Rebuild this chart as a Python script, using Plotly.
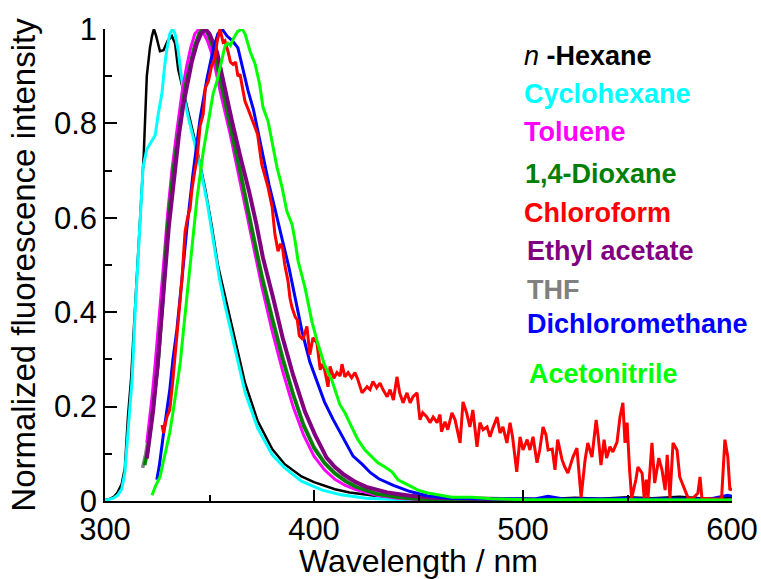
import plotly.graph_objects as go

# Emission spectra (wavelength in nm, normalized intensity)
hexane_wl = [300, 302, 304, 306, 308, 309.5, 311, 312.5, 314, 315.5, 317, 318.5, 320, 321.5, 322.5, 323.4,
             324.5, 326.3, 328, 330, 332, 333.5, 335, 338.3, 341, 344, 348, 351, 354, 357.4, 362, 367, 373,
             380, 386, 394, 400, 410, 417, 425, 433, 441, 450, 462, 475, 488, 500, 512, 525, 537, 550, 562,
             575, 588, 600]
hexane_int = [0.002, 0.004, 0.008, 0.018, 0.036, 0.07, 0.18, 0.26, 0.38, 0.5, 0.62, 0.73, 0.9, 0.96, 0.985, 1.0,
              0.985, 0.953, 0.955, 0.975, 0.985, 0.97, 0.915, 0.851, 0.8, 0.745, 0.66, 0.585, 0.5, 0.435, 0.345,
              0.25, 0.17, 0.11, 0.078, 0.052, 0.04, 0.025, 0.018, 0.013, 0.009, 0.006, 0.005, 0.004, 0.006,
              0.003, 0.005, 0.004, 0.007, 0.005, 0.008, 0.006, 0.009, 0.005, 0.008]

cyclohexane_wl = [300, 302, 304, 306, 308, 309.5, 310.5, 312, 313, 314.4, 315.5, 316.7, 318.2, 320, 322, 324,
                  325.5, 327.3, 328.5, 329.6, 331, 332.3, 333.5, 335, 336.5, 338.3, 340, 342, 345, 349, 352,
                  354.8, 357.4, 362, 367, 373, 380, 386, 394, 404, 413, 425, 440, 460, 500, 550, 600]
cyclohexane_int = [0.001, 0.003, 0.006, 0.012, 0.025, 0.06, 0.115, 0.2, 0.26, 0.399, 0.49, 0.6, 0.707, 0.745,
                   0.76, 0.775, 0.82, 0.866, 0.92, 0.957, 0.99, 1.0, 0.99, 0.955, 0.9, 0.845, 0.81, 0.773, 0.72,
                   0.63, 0.545, 0.47, 0.415, 0.325, 0.231, 0.155, 0.098, 0.07, 0.042, 0.023, 0.013, 0.006,
                   0.003, 0.002, 0.001, 0.001, 0.001]

toluene_wl = [320, 321, 322.5, 324, 326, 328, 330, 332, 334.4, 337, 339, 341, 343, 345, 347, 349, 351.7, 355,
              360, 365, 370, 375, 380, 385, 390, 395, 400, 405, 410, 415, 420, 430, 440, 450, 470, 500, 550, 600]
toluene_int = [0.123, 0.16, 0.22, 0.29, 0.39, 0.5, 0.61, 0.7, 0.785, 0.87, 0.92, 0.96, 0.99, 1.0, 0.993, 0.975,
               0.94, 0.87, 0.775, 0.67, 0.56, 0.455, 0.36, 0.275, 0.2, 0.14, 0.095, 0.066, 0.046, 0.033, 0.024,
               0.012, 0.006, 0.003, 0.001, 0.001, 0.0, 0.0]

dioxane_wl = [319, 320.6, 322, 323.5, 325.4, 327.8, 329.7, 332.5, 334.5, 336.8, 338.5, 340.7, 343, 345, 347,
              349, 351.7, 355, 360, 365, 370, 375, 380, 385, 390, 395, 400, 405, 410, 415, 420, 430, 440, 450,
              470, 500, 550, 600]
dioxane_int = [0.076, 0.11, 0.16, 0.215, 0.293, 0.44, 0.569, 0.696, 0.765, 0.83, 0.88, 0.925, 0.965, 0.99, 1.0,
               0.995, 0.96, 0.895, 0.795, 0.69, 0.58, 0.475, 0.385, 0.3, 0.225, 0.16, 0.112, 0.08, 0.058, 0.042,
               0.03, 0.015, 0.008, 0.004, 0.002, 0.001, 0.001, 0.001]

chloroform_wl = [327.3, 328.0, 329.6, 331.0, 332.5, 334.4, 336.8, 338.3, 339.5, 340.7, 341.6, 343, 344, 345.5,
                 347, 348, 349.5, 351, 352.6, 353.6, 355, 356.5, 357.4, 359, 360, 361.3, 362.5, 363.6, 364.6,
                 366, 367, 368.5, 370, 371.5, 373, 375, 376.5, 378, 380, 381.3, 382.8, 384, 385, 386, 387.6,
                 388.5, 389.5, 391, 392, 393, 394.7, 396.6, 398, 399.5, 401.4, 403, 404, 405, 406.7, 407.7,
                 409.5, 411, 412.5, 413.4, 414.8, 416.3, 418, 419.6, 421, 423, 425.4, 426.8, 428.2, 430, 431.6,
                 433, 435, 436.4, 438, 439.7, 441, 442.6, 444.5, 446, 447.4, 449.3, 450.7, 452, 454, 455.5, 457,
                 458.9, 460.3, 461, 462.7, 464, 466, 467.5, 469.9, 471.3, 473, 474.6, 476, 478, 479.4, 480.9,
                 482.8, 484.2, 485.6, 487.6, 489, 490.4, 492.3, 493.8, 495, 497, 498.6, 500, 502, 503.3, 504.8,
                 506.7, 508, 509.6, 511, 512, 514, 515.3, 516.6, 518.7, 520, 521.5, 523.9, 525.8, 527.8, 529.7,
                 531, 533, 535, 536, 537.3, 538.8, 540, 541.6, 543, 545, 546.4, 547.8, 548.8, 549.8, 551, 552,
                 554, 555, 557, 558, 559, 559.8, 561.7, 563, 565, 566.5, 568, 569, 570.3, 571.8, 573.7, 575,
                 577.5, 579, 581.3, 583.7, 584.7, 585.6, 590, 595, 596.6, 598, 599, 600]
chloroform_int = [0.161, 0.144, 0.178, 0.193, 0.257, 0.348, 0.469, 0.57, 0.6, 0.62, 0.66, 0.7, 0.724, 0.795,
                  0.82, 0.875, 0.89, 0.922, 0.936, 0.972, 1.0, 0.972, 0.975, 0.95, 0.93, 0.925, 0.93, 0.9,
                  0.904, 0.87, 0.847, 0.83, 0.813, 0.795, 0.777, 0.713, 0.69, 0.665, 0.622, 0.565, 0.529, 0.545,
                  0.535, 0.501, 0.465, 0.43, 0.41, 0.39, 0.384, 0.35, 0.342, 0.37, 0.31, 0.346, 0.335, 0.278,
                  0.29, 0.28, 0.242, 0.285, 0.26, 0.272, 0.265, 0.29, 0.263, 0.272, 0.261, 0.272, 0.257, 0.229,
                  0.242, 0.236, 0.253, 0.24, 0.25, 0.236, 0.221, 0.236, 0.214, 0.263, 0.229, 0.208, 0.229,
                  0.208, 0.221, 0.229, 0.172, 0.187, 0.178, 0.166, 0.178, 0.166, 0.183, 0.147, 0.168, 0.151,
                  0.187, 0.172, 0.123, 0.21, 0.187, 0.157, 0.193, 0.115, 0.166, 0.151, 0.157, 0.136, 0.155,
                  0.178, 0.144, 0.157, 0.123, 0.166, 0.136, 0.062, 0.136, 0.108, 0.13, 0.108, 0.136, 0.081,
                  0.108, 0.157, 0.14, 0.108, 0.11, 0.066, 0.13, 0.087, 0.072, 0.059, 0.093, 0.112, 0.008, 0.087,
                  0.123, 0.093, 0.172, 0.136, 0.076, 0.13, 0.091, 0.115, 0.104, 0.125, 0.178, 0.208, 0.123,
                  0.166, 0.066, 0.006, 0.045, 0.072, 0.059, 0.006, 0.045, 0.006, 0.123, 0.038, 0.091, 0.066,
                  0.023, 0.098, 0.006, 0.123, 0.108, 0.051, 0.023, 0.006, 0.006, 0.017, 0.051, 0.006, 0.004,
                  0.005, 0.13, 0.093, 0.023, 0.027]

ethylacetate_wl = [320, 321.5, 323, 325, 327, 328.5, 330.5, 333, 335.5, 337.5, 339.5, 341.5, 344, 346, 348, 350,
                   353.6, 357, 361, 365, 369, 372.5, 375.6, 380.4, 385, 390, 395.7, 400.5, 406, 410, 414, 420,
                   425, 435, 446, 457, 470, 490, 510, 550, 600]
ethylacetate_int = [0.09, 0.135, 0.19, 0.28, 0.4, 0.47, 0.58, 0.69, 0.78, 0.84, 0.89, 0.93, 0.97, 0.99, 1.0,
                    0.99, 0.951, 0.88, 0.8, 0.725, 0.655, 0.585, 0.515, 0.431, 0.346, 0.267, 0.189, 0.14, 0.092,
                    0.072, 0.057, 0.04, 0.03, 0.018, 0.011, 0.007, 0.005, 0.004, 0.002, 0.001, 0.001]

thf_wl = [318, 319.5, 321, 323, 325.4, 327.8, 330, 332.5, 335, 337.5, 340, 343, 346, 348, 351, 355, 360, 365,
          370, 375, 380, 385, 390, 395, 400, 405, 410, 420, 430, 440, 450, 470, 500, 550, 600]
thf_int = [0.07, 0.1, 0.14, 0.205, 0.29, 0.43, 0.565, 0.69, 0.785, 0.86, 0.915, 0.965, 0.995, 1.0, 0.97, 0.9,
           0.8, 0.695, 0.585, 0.48, 0.39, 0.305, 0.228, 0.163, 0.115, 0.082, 0.06, 0.031, 0.016, 0.008, 0.004,
           0.002, 0.001, 0.001, 0.001]

dcm_wl = [324.8, 326, 327.8, 329.5, 331, 332.5, 334.4, 336.8, 339, 342, 345.5, 348.8, 351.7, 354, 356, 358.4,
          361, 363.6, 366, 368.4, 371, 373.5, 376, 378.5, 381, 383, 385, 388, 391, 394.3, 398, 401.4, 405, 409,
          414, 418.7, 423, 427, 431, 438, 446, 454, 465, 475, 485, 495, 505, 512, 520, 530, 540, 550, 560, 570,
          580, 590, 598, 600]
dcm_int = [0.045, 0.075, 0.136, 0.19, 0.236, 0.3, 0.363, 0.469, 0.57, 0.69, 0.81, 0.895, 0.955, 0.99, 1.0, 0.985,
           0.975, 0.96, 0.915, 0.87, 0.83, 0.775, 0.72, 0.67, 0.625, 0.59, 0.55, 0.495, 0.43, 0.359, 0.295, 0.253,
           0.21, 0.174, 0.132, 0.095, 0.078, 0.06, 0.047, 0.033, 0.02, 0.011, 0.006, 0.005, 0.004, 0.005, 0.004,
           0.01, 0.004, 0.005, 0.004, 0.006, 0.004, 0.005, 0.004, 0.005, 0.012, 0.01]

acetonitrile_wl = [322.5, 324, 326.3, 328, 329.6, 331, 332.5, 334, 336, 337.5, 339.2, 341, 344, 347, 349, 351.7,
                   353.6, 356, 357.5, 358.8, 360, 361.5, 363.5, 365.5, 367, 369.4, 371.8, 374, 375.6, 378, 380,
                   382.3, 384.7, 387, 389.5, 391, 392.3, 395.7, 399, 402, 405, 408.6, 412.4, 414.8, 418, 421,
                   424.4, 427.8, 430.6, 434, 437.3, 440.2, 443.5, 447, 449.8, 454.5, 459.3, 466, 475.6, 485, 500,
                   550, 600]
acetonitrile_int = [0.012, 0.03, 0.051, 0.085, 0.115, 0.145, 0.187, 0.235, 0.293, 0.36, 0.433, 0.52, 0.64, 0.74,
                    0.79, 0.862, 0.89, 0.94, 0.965, 0.97, 0.965, 0.98, 0.995, 1.0, 0.99, 0.953, 0.926, 0.883,
                    0.834, 0.805, 0.762, 0.707, 0.665, 0.614, 0.586, 0.55, 0.51, 0.452, 0.38, 0.331, 0.289, 0.255,
                    0.204, 0.187, 0.157, 0.13, 0.108, 0.093, 0.081, 0.072, 0.062, 0.045, 0.038, 0.03, 0.023,
                    0.017, 0.013, 0.008, 0.008, 0.005, 0.003, 0.002, 0.002]

# (label, wavelengths, intensities, colour, line width, label x, label y) in drawing order
series = [
    ("<b>THF</b>", thf_wl, thf_int, "#808080", 3.5, 501, 0.448),
    ("<i>n</i> <b>-Hexane</b>", hexane_wl, hexane_int, "#000000", 2.5, 499.5, 0.943),
    ("<b>Cyclohexane</b>", cyclohexane_wl, cyclohexane_int, "#00FFFF", 3.0, 499.5, 0.862),
    ("<b>Toluene</b>", toluene_wl, toluene_int, "#FF00FF", 3.0, 499.5, 0.781),
    ("<b>1,4-Dioxane</b>", dioxane_wl, dioxane_int, "#008000", 3.5, 500, 0.692),
    ("<b>Ethyl acetate</b>", ethylacetate_wl, ethylacetate_int, "#800080", 4.0, 501, 0.529),
    ("<b>Dichloromethane</b>", dcm_wl, dcm_int, "#0000FF", 3.0, 501, 0.374),
    ("<b>Chloroform</b>", chloroform_wl, chloroform_int, "#FF0000", 3.0, 499.5, 0.611),
    ("<b>Acetonitrile</b>", acetonitrile_wl, acetonitrile_int, "#00FF00", 3.0, 502, 0.270),
]

fig = go.Figure()
annotations = []
for name, wl, inten, color, width, lx, ly in series:
    fig.add_trace(go.Scatter(x=wl, y=inten, mode="lines", name=name,
                             line=dict(color=color, width=width), showlegend=False))
    annotations.append(dict(x=lx, y=ly, xref="x", yref="y",
                            xanchor="left", yanchor="middle", showarrow=False, text=name,
                            font=dict(family="Liberation Sans, Arial", size=27, color=color)))

tick_font = dict(family="Liberation Sans, Arial", size=31, color="black")
title_font = dict(family="Liberation Sans, Arial", size=32, color="black")

fig.update_layout(
    width=761, height=579,
    margin=dict(l=105, r=29, t=29, b=78),
    paper_bgcolor="white", plot_bgcolor="white",
    font=tick_font,
    annotations=annotations,
    xaxis=dict(range=[300, 600], tickvals=[300, 400, 500, 600], ticks="inside", ticklen=11,
               tickwidth=1.5, tickcolor="black", showline=True, linecolor="black", linewidth=1.5,
               showgrid=False, zeroline=False, tickfont=tick_font, automargin=False,
               minor=dict(tickvals=[350, 450, 550], ticks="inside", ticklen=6, tickwidth=1.5,
                          tickcolor="black"),
               title=dict(text="Wavelength / nm", font=title_font, standoff=6)),
    yaxis=dict(range=[0, 1], tickvals=[0, 0.2, 0.4, 0.6, 0.8, 1.0],
               ticktext=["0", "0.2", "0.4", "0.6", "0.8", "1"], ticks="inside", ticklen=12,
               tickwidth=1.5, tickcolor="black", showline=True, linecolor="black", linewidth=1.5,
               showgrid=False, zeroline=False, tickfont=tick_font, automargin=False,
               minor=dict(tickvals=[0.1, 0.3, 0.5, 0.7, 0.9], ticks="inside", ticklen=7,
                          tickwidth=1.5, tickcolor="black"),
               title=dict(text="Normalized fluorescence intensity",
                          font=dict(family="Liberation Sans, Arial", size=33, color="black"),
                          standoff=8)),
)

fig.write_html("out.html")
